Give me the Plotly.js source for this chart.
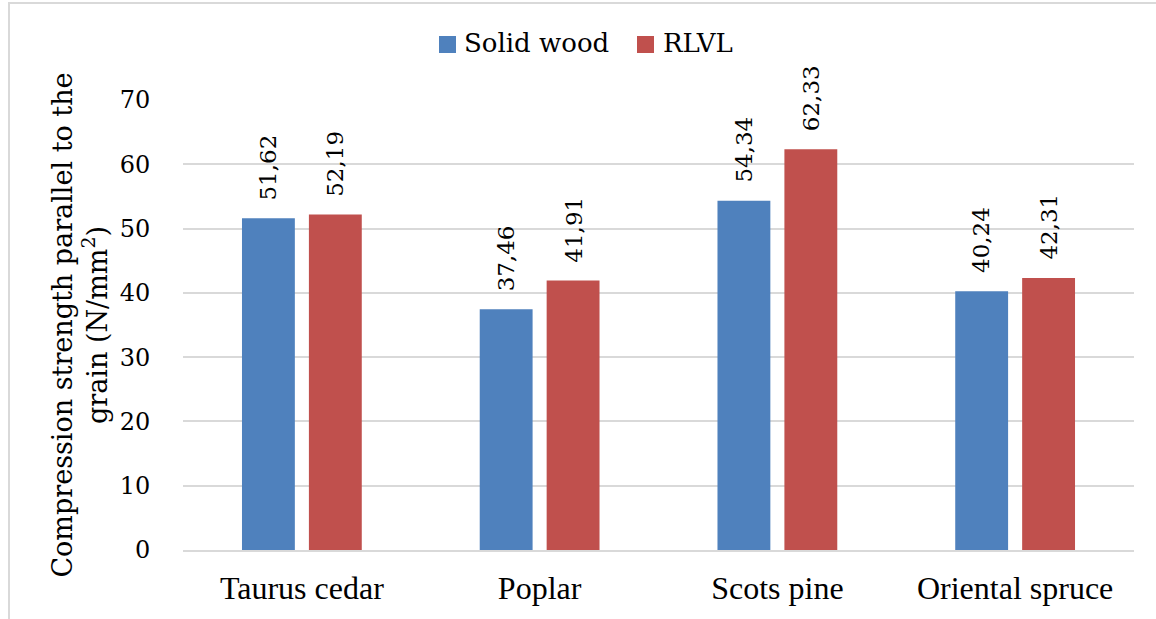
<!DOCTYPE html>
<html>
<head>
<meta charset="utf-8">
<script src="https://cdn.plot.ly/plotly-3.0.1.min.js"></script>
<style>
  html, body { margin: 0; padding: 0; background: #ffffff; }
  #wrap { position: relative; width: 1156px; height: 619px; overflow: hidden; }
  #chart { position: absolute; left: 0; top: 0; width: 1156px; height: 619px; }
  #frame { position: absolute; left: 8px; top: 2px; width: 1200px; height: 700px;
           border: 2px solid #d9d9d9; pointer-events: none; }
</style>
</head>
<body>
<div id="wrap">
  <div id="chart"></div>
  <div id="frame"></div>
</div>
<script>
const categories = ["Taurus cedar", "Poplar", "Scots pine", "Oriental spruce"];
const solidWood = [51.62, 37.46, 54.34, 40.24];
const rlvl = [52.19, 41.91, 62.33, 42.31];
const seriesNames = ["Solid wood", "RLVL"];
const seriesColors = ["#4F81BD", "#C0504D"];
const yTicks = [0, 10, 20, 30, 40, 50, 60, 70];

const FONT_CAT = "Liberation Serif";
const FONT_ALT = "DejaVu Serif";
const FS_CAT = 32;
const FS_LEGEND = 26;
const FS_TITLE = 27;
const FS_TICK = 24;
const FS_LABEL = 23;

const W = 1156, H = 619;
const M = { l: 183, r: 22, t: 100, b: 69 };
const BARGAP = 0.437;
const plotW = W - M.l - M.r;
const plotH = H - M.t - M.b;
const slotPx = (plotW / categories.length) * (1 - BARGAP) / 2;

const allSeries = [solidWood, rlvl];

const data = allSeries.map(function (vals, s) {
  return {
    type: "bar",
    name: seriesNames[s],
    x: categories,
    y: vals,
    marker: { color: seriesColors[s] },
    showlegend: false,
    hoverinfo: "x+y"
  };
});

function fmt(v) { return v.toFixed(2).replace(".", ","); }

const annotations = [];
allSeries.forEach(function (vals, s) {
  const shift = (s - 0.5) * slotPx;
  vals.forEach(function (v, i) {
    annotations.push({
      xref: "x", yref: "y",
      x: categories[i], y: v,
      text: fmt(v),
      textangle: -90,
      showarrow: false,
      xanchor: "center", yanchor: "bottom",
      xshift: shift, yshift: 16,
      font: { family: FONT_ALT, size: FS_LABEL, color: "#000000" }
    });
  });
});

// legend drawn as shapes + text (paper coordinates)
function px2paperX(px) { return (px - M.l) / plotW; }
function px2paperY(py) { return (H - M.b - py) / plotH; }
const legendItems = [
  { sq: [439, 456], txt: 462 },
  { sq: [637, 654], txt: 661 }
];
const legendTop = 36, legendBottom = 53, legendMid = 43;
const shapes = [];
legendItems.forEach(function (it, s) {
  shapes.push({
    type: "rect", xref: "paper", yref: "paper",
    x0: px2paperX(it.sq[0]), x1: px2paperX(it.sq[1]),
    y0: px2paperY(legendBottom), y1: px2paperY(legendTop),
    fillcolor: seriesColors[s], line: { width: 0 }
  });
  annotations.push({
    xref: "paper", yref: "paper",
    x: px2paperX(it.txt), y: px2paperY(legendMid),
    xanchor: "left", yanchor: "middle",
    text: seriesNames[s], showarrow: false,
    font: { family: FONT_ALT, size: FS_LEGEND, color: "#000000" }
  });
});

const layout = {
  width: W,
  height: H,
  separators: ", ",
  font: { family: FONT_CAT, size: FS_CAT, color: "#000000" },
  paper_bgcolor: "#ffffff",
  plot_bgcolor: "#ffffff",
  margin: { l: M.l, r: M.r, t: M.t, b: M.b, pad: 0, autoexpand: false },
  barmode: "group",
  bargap: BARGAP,
  bargroupgap: 0.21,
  showlegend: false,
  annotations: annotations,
  shapes: shapes,
  xaxis: {
    type: "category",
    showgrid: false,
    showline: true,
    linecolor: "#d9d9d9",
    linewidth: 2,
    ticks: "outside",
    ticklen: 9,
    tickcolor: "rgba(0,0,0,0)",
    tickfont: { family: FONT_CAT, size: FS_CAT, color: "#000000" },
    fixedrange: true
  },
  yaxis: {
    range: [0, 70],
    tickvals: yTicks,
    ticktext: yTicks.map(String),
    showgrid: true,
    gridcolor: "#d9d9d9",
    gridwidth: 2,
    zeroline: false,
    showline: false,
    ticks: "outside",
    ticklen: 27,
    tickcolor: "rgba(0,0,0,0)",
    tickfont: { family: FONT_ALT, size: FS_TICK, color: "#000000" },
    title: {
      text: "Compression strength parallel to the<br>grain (N/mm<sup>2</sup>)",
      font: { family: FONT_ALT, size: FS_TITLE, color: "#000000" },
      standoff: 4
    },
    fixedrange: true
  }
};

Plotly.newPlot("chart", data, layout, { displayModeBar: false, staticPlot: true });
</script>
</body>
</html>
